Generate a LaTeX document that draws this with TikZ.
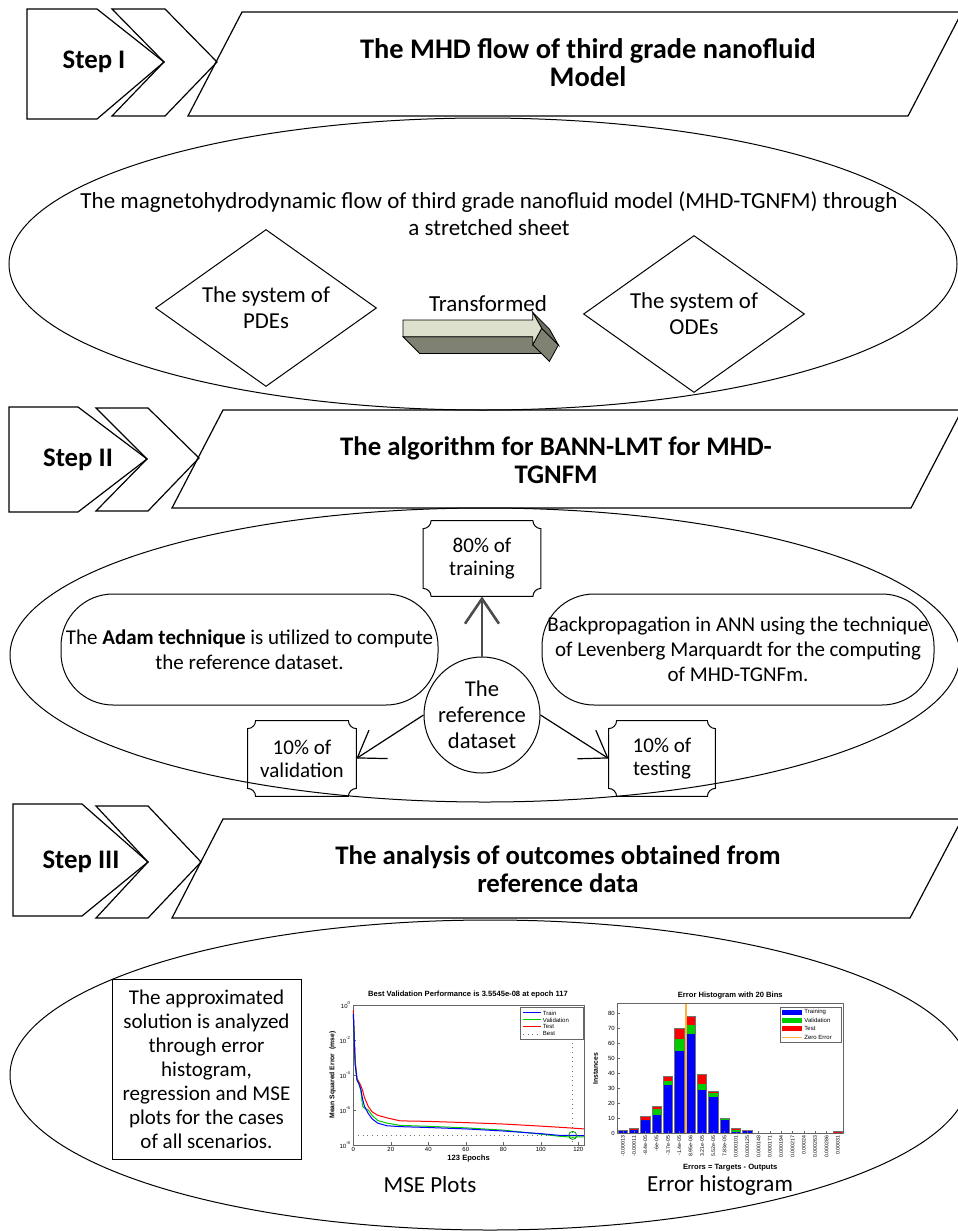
\documentclass[tikz,border=0pt]{standalone}
\usepackage{fontspec}
\setmainfont{Carlito}
\newfontfamily\plotfont{Liberation Sans}
\usetikzlibrary{arrows.meta,calc,shapes.geometric}

\definecolor{facelight}{RGB}{221,224,204}
\definecolor{facedark}{RGB}{127,130,114}
\definecolor{mblue}{RGB}{0,0,255}
\definecolor{mgreen}{RGB}{0,204,0}
\definecolor{mred}{RGB}{255,0,0}
\definecolor{morange}{RGB}{255,175,60}

\tikzset{
	stepline/.style={draw, line width=0.6pt, line join=miter},
	heading/.style={font=\fontsize{13.4}{14}\selectfont\bfseries, align=center, inner sep=0pt},
	txt/.style={font=\fontsize{11.5}{13.5}\selectfont, align=center, inner sep=0pt},
	system/.style={diamond, aspect=1.4, draw, line width=0.5pt, minimum width=110.5pt, minimum height=78.5pt, inner sep=0pt, align=center, font=\fontsize{11.4}{13}\selectfont},
	capsule/.style={rectangle, draw, line width=0.5pt, rounded corners=26pt, minimum height=55.5pt, inner sep=0pt, align=center, font=\fontsize{10.5}{12.5}\selectfont},
	share/.style={rectangle, minimum height=37.5pt, inner sep=0pt, align=center, font=\fontsize{10.5}{11.5}\selectfont},
	hub/.style={circle, draw, line width=0.5pt, minimum size=58pt, inner sep=0pt, align=center, font=\fontsize{11.3}{13}\selectfont},
	feedup/.style={-{Straight Barb[length=12.5pt,width=17pt]}, line width=1.3pt, draw=black!70},
	feedside/.style={-{Straight Barb[length=12.5pt,width=17pt]}, line width=0.6pt},
}

% box with hollow corners drawn round a node
\newcommand{\plaque}[1]{%
	\draw[line width=0.5pt] ($(#1.north west)+(8,0)$) -- ($(#1.north east)+(-8,0)$)
	.. controls +(0,4.4) and +(-4.4,0) .. ($(#1.north east)+(0,8)$)
	-- ($(#1.south east)+(0,-8)$)
	.. controls +(-4.4,0) and +(0,-4.4) .. ($(#1.south east)+(-8,0)$)
	-- ($(#1.south west)+(8,0)$)
	.. controls +(0,-4.4) and +(4.4,0) .. ($(#1.south west)+(0,-8)$)
	-- ($(#1.north west)+(0,8)$)
	.. controls +(4.4,0) and +(0,4.4) .. ($(#1.north west)+(8,0)$) -- cycle;}

\begin{document}
\begin{tikzpicture}[x=0.5pt, y=-0.5pt]
	\fill[white] (0,0) rectangle (958,1231);
	\useasboundingbox (0,0) rectangle (958,1231);

	% Step banners
	\path[stepline] (27,9) -- (97,9) -- (164,62) -- (97,119) -- (27,119) -- cycle;
	\path[stepline] (112,9) -- (165,9) -- (217,62) -- (165,116) -- (112,116) -- (164,62) -- cycle;
	\path[stepline] (242,12) -- (962,12) -- (908,116) -- (188,116) -- cycle;

	\path[stepline] (9,407) -- (78,407) -- (147,459) -- (78,512) -- (9,512) -- cycle;
	\path[stepline] (96,408) -- (148,408) -- (199,458) -- (148,511) -- (96,511) -- (147,459) -- cycle;
	\path[stepline] (223,410) -- (962,410) -- (911,508) -- (172,508) -- cycle;

	\path[stepline] (13,804) -- (82,804) -- (148,862) -- (82,916) -- (13,916) -- cycle;
	\path[stepline] (96,806) -- (148,806) -- (201,862) -- (148,918) -- (96,918) -- (148,862) -- cycle;
	\path[stepline] (223,819) -- (962,819) -- (910,918) -- (172,918) -- cycle;

	% Stage ellipses
	\draw[line width=0.5pt] (483,264) ellipse [x radius=474, y radius=146];
	\draw[line width=0.5pt] (485,655) ellipse [x radius=475, y radius=147];
	\draw[line width=0.5pt] (490,1075) ellipse [x radius=480, y radius=155];

	% Define nodes
	\node (step1) [heading] at (94,62) {Step I};
	\node (title1) [heading, font=\fontsize{14.2}{14}\selectfont\bfseries] at (588,63) {The MHD flow of third grade nanofluid\\Model};
	\node (step2) [heading] at (78,460) {Step II};
	\node (title2) [heading] at (556,460) {The algorithm for BANN-LMT for MHD-\\TGNFM};
	\node (step3) [heading] at (81,862) {Step III};
	\node (title3) [heading] at (558,869) {The analysis of outcomes obtained from\\reference data};

	\node (model) [txt] at (489,214) {The magnetohydrodynamic flow of third grade nanofluid model (MHD-TGNFM) through\\a stretched sheet};
	\node (pde) [system] at (266,308) {The system of\\PDEs};
	\node (ode) [system] at (694,314) {The system of\\ODEs};
	\node (transf) [txt] at (488,304) {Transformed};

	\node (train) [share, minimum width=58.5pt] at (482,558.5) {80\% of\\training};
	\node (hub) [hub] at (482,715) {The\\reference\\dataset};
	\node (valid) [share, minimum width=54pt] at (302,758.5) {10\% of\\validation};
	\node (test) [share, minimum width=53pt] at (662,758.5) {10\% of\\testing};
	\node (adam) [capsule, minimum width=188.5pt] at (249.5,649.5) {The \textbf{Adam technique} is utilized to compute\\the reference dataset.};
	\node (lmt) [capsule, minimum width=196pt] at (738,649.5) {Backpropagation in ANN using the technique\\of Levenberg Marquardt for the computing\\of MHD-TGNFm.};
	\plaque{train}
	\plaque{valid}
	\plaque{test}

	\node (approx) [rectangle, draw, line width=0.5pt, minimum width=94.5pt, minimum height=90pt, inner sep=0pt, align=center, font=\fontsize{10.5}{12}\selectfont] at (206.5,1069) {The approximated\\solution is analyzed\\through error\\histogram,\\regression and MSE\\plots for the cases\\of all scenarios.};
	\node (msecap) [txt] at (430,1185) {MSE Plots};
	\node (histcap) [txt] at (720,1185) {Error histogram};

	% Transformed block arrow
	\filldraw[fill=facedark, line width=0.4pt] (403,336.7) -- (532.7,336.7) -- (549.4,353.4) -- (419.7,353.4) -- cycle;
	\filldraw[fill=facedark, line width=0.4pt] (541.7,328.3) -- (532.7,344.7) -- (549.4,361.4) -- (558.4,345) -- cycle;
	\filldraw[fill=facedark!85!black, line width=0.4pt] (532.7,312.3) -- (541.7,328.3) -- (558.4,345) -- (549.4,329) -- cycle;
	\filldraw[fill=facelight, line width=0.4pt] (403,320) -- (532.7,320) -- (532.7,312.3) -- (541.7,328.3) -- (532.7,344.7) -- (532.7,336.7) -- (403,336.7) -- cycle;

	% Draw edges
	\draw[feedup] (hub.north) -- (train.south);
	\draw[feedside] (hub.west) -- (valid.east);
	\draw[feedside] (hub.east) -- (test.west);

	% MSE plot
	\begin{scope}[xshift=176.65pt, yshift=-502.5pt, x=0.9375pt, y=-8.75pt,
		every node/.style={font=\plotfont\fontsize{3}{3.5}\selectfont, inner sep=0.4pt}]
		\draw[line width=0.3pt, draw=black!60] (0,0) rectangle (123,8);
		\foreach \e in {0,20,...,120} {
			\draw[line width=0.2pt, black!60] (\e,8) -- (\e,7.85);
			\node (mx\e) [anchor=north] at (\e,8.05) {\e};
		}
		\foreach \k/\s in {0/0,2/-2,4/-4,6/-6,8/-8} {
			\draw[line width=0.2pt, black!60] (0,\k) -- (1.5,\k);
			\node (my\k) [anchor=east] at (-0.6,\k) {10\textsuperscript{\s}};
		}
		\draw[dotted, black!55, line width=0.35pt] (0,7.45) -- (123,7.45);
		\draw[dotted, black!55, line width=0.35pt] (117,0) -- (117,8);
		\draw[mred, line width=0.5pt, line join=round] plot coordinates {(0,0.3) (0.5,1.5) (1,3.2) (2,4.2) (3,4.4) (4,4.6) (5,4.9) (6,5.3) (8,5.8) (10,6.1) (13,6.3) (18,6.45) (25,6.62) (40,6.65) (60,6.72) (80,6.8) (100,6.92) (115,7.02) (123,7.08)};
		\draw[mgreen, line width=0.5pt, line join=round] plot coordinates {(0,0.5) (0.5,2) (1,3.4) (2,4.3) (3,4.5) (4,4.9) (5,5.8) (6,5.9) (8,6.0) (10,6.3) (13,6.6) (18,6.75) (25,6.88) (40,6.93) (60,7.02) (80,7.15) (100,7.38) (110,7.5) (117,7.55) (123,7.53)};
		\draw[mblue, line width=0.5pt, line join=round] plot coordinates {(0,0.5) (0.5,2) (1,3.4) (2,4.3) (3,4.5) (4,4.8) (5,5.4) (6,5.8) (8,6.2) (10,6.5) (13,6.75) (18,6.9) (25,6.95) (40,7.0) (60,7.08) (80,7.2) (100,7.35) (110,7.45) (117,7.45) (123,7.47)};
		\draw[mgreen!70!black, line width=0.4pt] (117,7.45) circle[radius=2pt];
		\node (msetitle) [font=\plotfont\bfseries\fontsize{3.8}{4.5}\selectfont] at (61.2,-0.6) {Best Validation Performance is 3.5545e-08 at epoch 117};
		\node (mseylab) [rotate=90, font=\plotfont\bfseries\fontsize{3.4}{4}\selectfont] at (-11,4) {Mean Squared Error\ \ (mse)};
		\node (msexlab) [font=\plotfont\bfseries\fontsize{3.8}{4.5}\selectfont] at (61.5,8.75) {123 Epochs};
		\draw[fill=white, line width=0.3pt, draw=black!60] (89,0.12) rectangle (122.5,1.95);
		\foreach \n/\c/\y in {Train/mblue/0.45,Validation/mgreen/0.85,Test/mred/1.25} {
			\draw[\c, line width=0.5pt] (90.5,\y) -- (100,\y);
			\node (ml\n) [anchor=west] at (100.5,\y) {\n};
		}
		\draw[dotted, black!55, line width=0.35pt] (90.5,1.65) -- (100,1.65);
		\node (mlBest) [anchor=west] at (100.5,1.65) {Best};
	\end{scope}

	% Error histogram
	\begin{scope}[xshift=305.7pt, yshift=-566.5pt, x=5.66pt, y=0.75pt,
		every node/.style={font=\plotfont\fontsize{3}{3.5}\selectfont, inner sep=0.4pt}]
		\foreach \i/\t/\v/\s in {1/2/0/0, 2/2/0/1, 3/9/0/2, 4/12/4/2, 5/32/3/3, 6/55/8/7, 7/66/6/6, 8/29/4/6, 9/24/3/1, 10/9/1/0, 11/1/1/1, 12/2/0/0, 20/0/0/1} {
			\fill[mblue] (\i-0.41,0) rectangle (\i+0.41,\t);
			\fill[mgreen] (\i-0.41,\t) rectangle (\i+0.41,\t+\v);
			\fill[mred] (\i-0.41,\t+\v) rectangle (\i+0.41,\t+\v+\s);
			\draw[black!55, line width=0.25pt] (\i-0.41,0) rectangle (\i+0.41,\t+\v+\s);
		}
		\draw[morange, line width=0.6pt] (6.59,0) -- (6.59,86.7);
		\draw[line width=0.3pt, draw=black!60] (0.5,0) rectangle (20.5,86.7);
		\foreach \v in {0,10,...,80} {
			\draw[line width=0.2pt, black!60] (0.5,\v) -- (0.75,\v);
			\node (hy\v) [anchor=east] at (0.4,\v) {\v};
		}
		\foreach \i/\lab in {1/-0.00013, 2/-0.00011, 3/-8.4e-05, 4/-6e-05, 5/-3.7e-05, 6/-1.4e-05, 7/8.95e-06, 8/3.21e-05, 9/5.52e-05, 10/7.83e-05, 11/0.000101, 12/0.000125, 13/0.000148, 14/0.000171, 15/0.000194, 16/0.000217, 17/0.00024, 18/0.000263, 19/0.000286, 20/0.00031} {
			\draw[line width=0.2pt, black!60] (\i,0) -- (\i,1.5);
			\node (hx\i) [rotate=90, anchor=east, font=\plotfont\fontsize{2.6}{3}\selectfont] at (\i,-1.2) {\lab};
		}
		\node (histtitle) [font=\plotfont\bfseries\fontsize{3.8}{4.5}\selectfont] at (10.5,91.5) {Error Histogram with 20 Bins};
		\node (histylab) [rotate=90, font=\plotfont\bfseries\fontsize{3.4}{4}\selectfont] at (-1.4,43) {Instances};
		\node (histxlab) [font=\plotfont\bfseries\fontsize{3.8}{4.5}\selectfont] at (10.5,-23) {Errors = Targets - Outputs};
		\draw[fill=white, line width=0.3pt, draw=black!60] (14.9,84) rectangle (20.3,60.7);
		\foreach \n/\c/\y in {Training/mblue/80.5,Validation/mgreen/75,Test/mred/69.5} {
			\fill[\c] (15.1,\y+1.8) rectangle (16.8,\y-1.8);
			\node (hl\n) [anchor=west] at (16.95,\y) {\n};
		}
		\draw[morange, line width=0.5pt] (15.1,64) -- (16.8,64);
		\node (hlZero) [anchor=west] at (16.95,64) {Zero Error};
	\end{scope}
\end{tikzpicture}
\end{document}
